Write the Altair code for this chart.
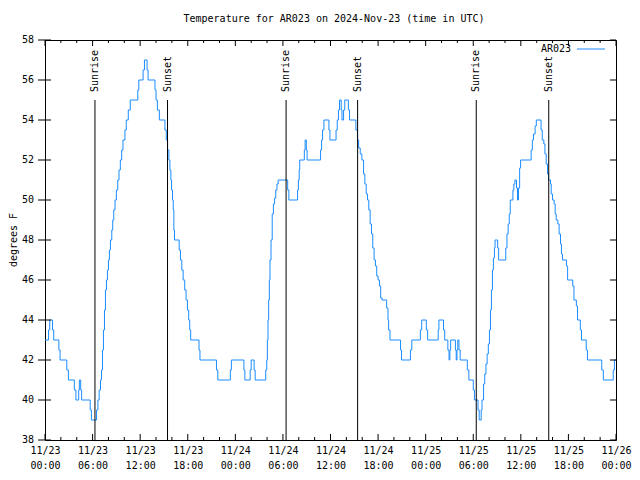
import altair as alt
import pandas as pd

# ---- data -------------------------------------------------------------------
# hours after 2024-11-23 00:00 UTC at which the reading changes, and the reading (deg F)
hours = [0.0, 0.45, 0.6, 0.95, 1.1, 1.75, 1.9, 2.75, 2.95, 3.7, 3.9, 4.25, 4.33, 4.5, 4.62,
         5.7, 5.85, 6.5, 6.67, 6.83, 7.0, 7.12, 7.25, 7.37, 7.5, 7.62, 7.75, 7.87, 8.0, 8.12,
         8.25, 8.42, 8.54, 8.67, 8.83, 9.0, 9.17, 9.33, 9.5, 9.67, 9.83, 10.08, 10.25, 10.5,
         10.75, 11.7, 11.83, 12.37, 12.54, 12.87, 13.0, 13.87, 14.0, 14.17, 14.42, 15.12,
         15.29, 15.46, 15.62, 15.75, 15.87, 15.96, 16.08, 16.17, 16.25, 16.33, 16.92, 17.08,
         17.25, 17.42, 17.62, 17.79, 17.96, 18.12, 18.25, 18.37, 19.42, 19.54, 21.62, 21.79,
         23.37, 23.5, 25.08, 25.2, 25.87, 26.0, 26.37, 26.5, 27.83, 27.96, 28.04, 28.12, 28.2,
         28.29, 28.37, 28.5, 28.65, 28.8, 28.95, 29.1, 29.25, 29.4, 30.6, 30.75, 31.85, 31.95,
         32.05, 32.12, 32.7, 32.8, 32.95, 33.05, 34.75, 34.88, 35.0, 35.17, 35.8, 35.93, 36.7,
         36.85, 37.0, 37.14, 37.35, 37.45, 37.65, 37.8, 38.25, 38.4, 39.2, 39.4, 39.55, 39.75,
         39.96, 40.17, 40.33, 40.5, 40.67, 40.83, 41.0, 41.17, 41.33, 41.5, 41.67, 41.83, 42.0,
         42.17, 42.33, 42.5, 43.08, 43.25, 43.33, 43.5, 44.83, 44.96, 46.08, 46.25, 47.33,
         47.5, 48.08, 48.25, 49.58, 49.67, 50.25, 50.4, 50.8, 50.95, 51.05, 51.15, 51.75,
         51.85, 51.95, 52.05, 52.2, 52.35, 53.25, 53.45, 54.0, 54.15, 54.6, 54.75, 55.0, 55.1,
         55.3, 55.45, 55.6, 55.75, 55.9, 56.04, 56.17, 56.29, 56.42, 56.54, 56.67, 56.75,
         57.08, 57.2, 58.1, 58.25, 58.4, 58.54, 58.67, 59.0, 59.12, 59.25, 59.45, 59.58, 59.7,
         59.85, 59.97, 61.3, 61.45, 61.6, 61.8, 61.95, 62.55, 62.7, 62.9, 63.04, 63.2, 63.37,
         63.5, 63.75, 63.83, 64.0, 64.2, 64.33, 64.46, 64.67, 64.83, 65.0, 65.12, 65.25, 65.75,
         65.9, 66.55, 66.7, 67.0, 67.15, 67.5, 67.65, 68.25, 68.4, 70.2, 70.4, 71.65, 71.8, 72.0]
temps = [43.0, 43.5, 44.0, 43.5, 43.0, 42.5, 42.0, 41.5, 41.0, 40.5, 40.0, 40.5, 41.0, 40.5, 40.0,
         39.5, 39.0, 39.5, 40.0, 40.5, 41.0, 41.5, 42.5, 43.5, 44.5, 45.5, 46.0, 46.5, 47.0, 47.5,
         48.0, 48.5, 49.0, 49.5, 50.0, 50.5, 51.0, 51.5, 52.0, 52.5, 53.0, 53.5, 54.0, 54.5,
         55.0, 55.5, 56.0, 56.5, 57.0, 56.5, 56.0, 55.5, 55.0, 54.5, 54.0, 53.5,
         53.0, 52.5, 52.0, 51.5, 51.0, 50.5, 50.0, 49.5, 48.5, 48.0, 47.5, 47.0,
         46.5, 46.0, 45.5, 45.0, 44.5, 44.0, 43.5, 43.0, 42.5, 42.0, 41.5, 41.0,
         41.5, 42.0, 41.5, 41.0, 41.5, 42.0, 41.5, 41.0, 41.5, 42.0, 43.0, 44.0, 45.0,
         46.0, 47.0, 48.0, 49.3, 49.8, 50.1, 50.5, 50.8, 51.0, 50.5, 50.0, 50.5, 51.0,
         51.5, 52.0, 52.5, 53.0, 52.5, 52.0, 52.5, 53.0, 53.5, 54.0, 53.5, 53.0, 53.5,
         54.0, 54.5, 55.0, 54.5, 54.0, 54.5, 55.0, 54.5, 54.0, 53.5, 53.0, 52.6, 52.3,
         52.0, 51.3, 50.8, 50.3, 50.0, 49.5, 48.8, 48.3, 47.6, 47.0, 46.7, 46.2, 46.0,
         45.7, 45.1, 45.0, 44.6, 44.0, 43.5, 43.0, 42.5, 42.0, 42.5, 43.0, 43.5,
         44.0, 43.5, 43.0, 43.5, 44.0, 43.5, 43.0, 42.5, 42.0, 42.5, 43.0, 42.5,
         42.0, 42.5, 43.0, 42.5, 42.0, 41.5, 41.0, 40.5, 40.0, 39.5, 39.0, 39.5, 40.0,
         40.8, 41.3, 41.8, 42.3, 42.8, 43.5, 44.5, 45.5, 46.5, 47.1, 47.6, 48.0,
         47.6, 47.0, 47.6, 48.3, 48.8, 49.3, 50.0, 50.5, 50.8, 51.0, 50.6, 50.0, 50.6,
         51.6, 52.0, 52.5, 53.0, 53.3, 53.7, 54.0, 53.5, 53.0, 52.8, 52.3, 51.8, 51.3,
         51.0, 50.8, 50.3, 50.0, 49.8, 49.3, 49.0, 48.8, 48.3, 47.8, 47.3, 47.0, 46.7,
         46.0, 45.7, 45.0, 44.7, 44.0, 43.5, 43.0, 42.5, 42.0, 41.5, 41.0, 41.5, 42.0, 42.0]

sun_hours = [6.3, 15.45, 30.4, 39.42, 54.38, 63.52]
sun_labels = ["Sunrise", "Sunset", "Sunrise", "Sunset", "Sunrise", "Sunset"]

y_ticks = [38, 40, 42, 44, 46, 48, 50, 52, 54, 56, 58]
x_major_hours = list(range(0, 73, 6))
x_minor_hours = [h for h in range(0, 73, 2) if h % 6 != 0]

title_text = "Temperature for AR023 on 2024-Nov-23 (time in UTC)"
series_name = "AR023"
y_title = "degrees F"

# ---- helpers -------------------------------------------------------------------
base = pd.Timestamp("2024-11-23T00:00:00")


def iso(h):
    return (base + pd.Timedelta(hours=h)).strftime("%Y-%m-%dT%H:%M:%SZ")


def ms(h):
    return int((base + pd.Timedelta(hours=h)).value // 10**6)


W, H = 571, 400
FONT = "DejaVu Sans Mono"
BLUE = "#1a8cff"

temp_df = pd.DataFrame({"time": [iso(h) for h in hours], "temp": temps})
sun_df = pd.DataFrame({"time": [iso(h) for h in sun_hours], "label": sun_labels})
major_df = pd.DataFrame({"time": [iso(h) for h in x_major_hours]})
minor_df = pd.DataFrame({"time": [iso(h) for h in x_minor_hours]})
ytick_df = pd.DataFrame({"temp": y_ticks})

xscale = alt.Scale(type="utc", domain=[ms(0), ms(72)], nice=False)
yscale = alt.Scale(domain=[38, 58], nice=False, zero=False)

x_axis = alt.Axis(
    values=[ms(h) for h in x_major_hours],
    labelExpr="[utcFormat(datum.value, '%m/%d'), utcFormat(datum.value, '%H:%M')]",
    title=None,
)

xo = alt.X("time:T", scale=xscale)
yo = alt.Y("temp:Q", scale=yscale, axis=None)

line = alt.Chart(temp_df).mark_line(
    interpolate="step-after", color=BLUE, strokeWidth=1
).encode(
    x=alt.X("time:T", scale=xscale, axis=x_axis),
    y=yo,
)

sun_rules = alt.Chart(sun_df).mark_rule(color="black", strokeWidth=1).encode(
    x=xo,
    y=alt.YDatum(55, axis=None),
    y2=alt.Y2Datum(38),
)
sun_text = alt.Chart(sun_df).mark_text(
    angle=270, align="left", baseline="middle", font=FONT, fontSize=10, color="black"
).encode(
    x=xo,
    y=alt.YDatum(55.4, axis=None),
    text="label:N",
)

# tick marks and y labels, gnuplot style
bottom_major = alt.Chart(major_df).mark_rule(color="black").encode(
    x=xo, y=alt.value(H), y2=alt.value(H - 6))
top_major = alt.Chart(major_df).mark_rule(color="black").encode(
    x=xo, y=alt.value(0), y2=alt.value(6))
bottom_minor = alt.Chart(minor_df).mark_rule(color="black").encode(
    x=xo, y=alt.value(H), y2=alt.value(H - 3))
top_minor = alt.Chart(minor_df).mark_rule(color="black").encode(
    x=xo, y=alt.value(0), y2=alt.value(3))
left_ticks = alt.Chart(ytick_df).mark_rule(color="black").encode(
    y=yo, x=alt.value(-7), x2=alt.value(6))
right_ticks = alt.Chart(ytick_df).mark_rule(color="black").encode(
    y=yo, x=alt.value(W), x2=alt.value(W - 6))
y_labels = alt.Chart(ytick_df).mark_text(
    align="right", baseline="middle", font=FONT, fontSize=10, color="black"
).encode(y=yo, x=alt.value(-11), text="temp:Q")
y_title_mark = alt.Chart(pd.DataFrame({"t": [y_title]})).mark_text(
    angle=270, align="center", baseline="middle", font=FONT, fontSize=10, color="black"
).encode(x=alt.value(-31), y=alt.value(H / 2), text="t:N")

# legend
legend_text = alt.Chart(pd.DataFrame({"name": [series_name]})).mark_text(
    align="right", baseline="middle", font=FONT, fontSize=10, color="black"
).encode(x=alt.value(W - 45), y=alt.value(9), text="name:N")
legend_line = alt.Chart(pd.DataFrame({"name": [series_name]})).mark_rule(
    color=BLUE, strokeWidth=1
).encode(x=alt.value(W - 39), x2=alt.value(W - 11), y=alt.value(9))

# title
title = alt.Chart(pd.DataFrame({"t": [title_text]})).mark_text(
    align="center", baseline="middle", font=FONT, fontSize=10, color="black"
).encode(x=alt.value(289), y=alt.value(-21), text="t:N")

chart = alt.layer(
    line, sun_rules, sun_text, bottom_major, top_major, bottom_minor, top_minor,
    left_ticks, right_ticks, y_labels, y_title_mark, legend_text, legend_line, title,
).properties(
    width=W, height=H,
    autosize=alt.AutoSizeParams(type="none"),
    padding={"left": 37, "top": 32, "right": 16, "bottom": 32},
).configure_view(
    stroke="black", strokeWidth=1
).configure_axis(
    labelFont=FONT, labelFontSize=10, labelColor="black", labelOverlap=False,
    labelFlush=False, domain=False, ticks=False, tickSize=0, grid=False,
).configure_axisX(
    labelLineHeight=15, labelPadding=5, labelBaseline="top",
)

chart.save("out.html", embed_options={"renderer": "svg", "actions": False})
